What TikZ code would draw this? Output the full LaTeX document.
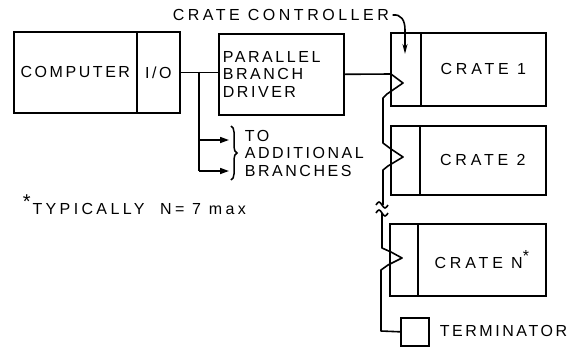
\documentclass[tikz,border=0pt]{standalone}
\usepackage{fontspec}
\setmainfont{Liberation Sans}[LetterSpace=16]
\usetikzlibrary{arrows.meta,decorations.pathreplacing}
\begin{document}
\begin{tikzpicture}[x=1pt,y=-1pt, line width=1.6pt,
  font=\fontsize{16}{17.5}\selectfont,
  box/.style={draw, line width=1.6pt, inner sep=0pt, anchor=north west},
  lbl/.style={inner sep=0pt, anchor=west},
  wide/.style={font=\fontsize{16}{17.5}\selectfont\addfontfeature{LetterSpace=24}},
  branchtip/.style={-{Triangle[length=9pt,width=6pt]}}]
\useasboundingbox (0,0) rectangle (579,349);
% left part
\node[box, minimum width=123pt, minimum height=81pt] (computer) at (13,31) {COMPUTER};
\node[box, minimum width=43pt, minimum height=81pt] (io) at (136,31) {I/O};
\node[box, minimum width=125pt, minimum height=81pt, text width=117pt, align=left, inner sep=4pt] (pbd) at (218,33) {PARALLEL\\BRANCH\\DRIVER};
% crates
\node[box, minimum width=30pt, minimum height=73pt] (ctrl1) at (390,32) {};
\node[box, wide, minimum width=125pt, minimum height=73pt] (crate1) at (420,32) {CRATE 1};
\node[box, minimum width=29pt, minimum height=69pt] (ctrl2) at (390,125) {};
\node[box, wide, minimum width=126pt, minimum height=69pt] (crate2) at (419,125) {CRATE 2};
\node[box, minimum width=28pt, minimum height=72pt] (ctrlN) at (389,223) {};
\node[box, wide, minimum width=128pt, minimum height=72pt] (crateN) at (417,223) {CRATE N\raisebox{7pt}{*}};
\node[box, minimum width=28pt, minimum height=28pt] (term) at (400,317) {};
% labels
\node[lbl, font=\fontsize{16}{17.5}\selectfont\addfontfeature{LetterSpace=22}] (ccl) at (172,15) {CRATE CONTROLLER};
\node[lbl] (terml) at (439,331) {TERMINATOR};
\node[lbl, align=left] (addl) at (244,153) {TO\\ADDITIONAL\\BRANCHES};
\node[lbl, font=\fontsize{16}{17.5}\selectfont\addfontfeature{LetterSpace=21}] (note) at (22,205) {\raisebox{6pt}{\fontsize{20}{20}\selectfont *}\hspace{2pt}TYPICALLY\ \ N= 7 max};
% computer to branch driver, with branch tap
\draw (io.east) -- (io.east -| pbd.west);
\coordinate (br) at (199,71.5);
\coordinate (b1) at (229,140);
\coordinate (b2) at (229,171);
\draw (br) -- (br |- b2);
\draw[branchtip] (br |- b1) -- (b1);
\draw[branchtip] (br |- b2) -- (b2);
\draw[line width=1.5pt, decorate, decoration={brace, amplitude=6pt}] (231,126) -- (231,180);
% crate controller pointer
\coordinate (cctip) at (405,54);
\draw[-{Stealth[length=10pt,width=5pt]}] (ccl.east) ++(3,0) .. controls (401,14) and (405,20) .. (405,30) -- (cctip);
% branch highway cable
\draw[line join=round] (pbd.east) -- (391,74) -- (403,83) -- (387,94) -- (383,98)
  -- (383,143) -- (391,149) -- (403,157) -- (388,166) -- (383,170) -- (383,205);
\draw (376,205) sin (379,202) cos (382,205) sin (385,208) cos (388,205);
\draw (376,213) sin (379,210) cos (382,213) sin (385,216) cos (388,213);
\draw[line join=round] (382,213) -- (382,248) -- (391,252) -- (402,258) -- (388,265) -- (381,270)
  -- (381,331) -- (term.west);
\end{tikzpicture}
\end{document}
